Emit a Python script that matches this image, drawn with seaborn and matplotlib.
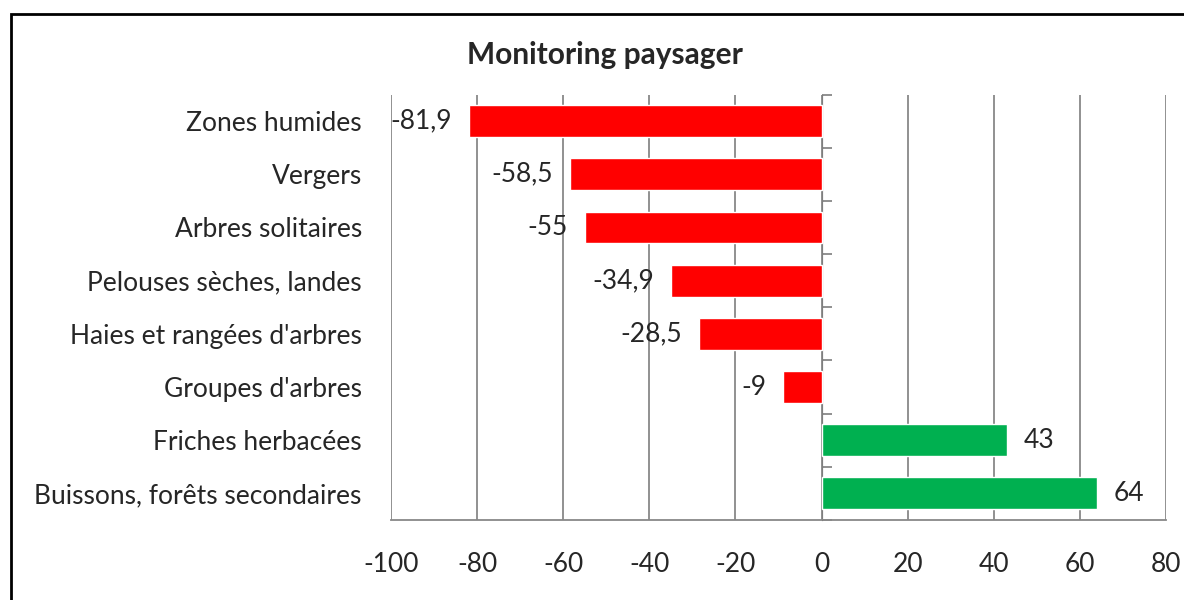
import numpy as np
import pandas as pd
import seaborn as sns
import matplotlib.pyplot as plt
import matplotlib.patches as patches
from matplotlib.ticker import MultipleLocator, FixedLocator, NullFormatter

categories = ['Zones humides', 'Vergers', 'Arbres solitaires', 'Pelouses sèches, landes',
              "Haies et rangées d'arbres", "Groupes d'arbres", 'Friches herbacées',
              'Buissons, forêts secondaires']
values = [-81.9, -58.5, -55, -34.9, -28.5, -9, 43, 64]

df = pd.DataFrame({'cat': categories, 'val': values})
df['sign'] = np.where(df['val'] < 0, 'neg', 'pos')

sns.set_style('white')
plt.rcParams['font.family'] = ['Lato', 'DejaVu Sans']
plt.rcParams['axes.unicode_minus'] = False

fig = plt.figure(figsize=(11.84, 6), dpi=100)
ax = fig.add_axes([0.3302, 0.1333, 0.6546, 0.7092])

sns.barplot(data=df, x='val', y='cat', hue='sign', palette={'neg': '#FF0000', 'pos': '#00B050'},
            width=0.6, legend=False, orient='h', ax=ax, saturation=1)

grey = '#888888'
ax.set_xlim(-100, 80)
ax.set_ylim(len(categories) - 0.5, -0.5)
ax.xaxis.set_major_locator(MultipleLocator(20))
ax.grid(axis='x', color=grey, lw=1.3)
ax.set_axisbelow(True)
ax.set_xlabel(None)
ax.set_ylabel(None)

for s in ['top', 'right', 'left']:
    ax.spines[s].set_visible(False)
ax.spines['bottom'].set_color(grey)
ax.spines['bottom'].set_linewidth(1.3)
ax.tick_params(axis='x', direction='out', length=8, width=1.3, color=grey, pad=15, labelsize=19)
ax.tick_params(axis='y', length=0, pad=21, labelsize=19)

# vertical axis line at zero with category-boundary ticks
sec = ax.secondary_yaxis(100 / 180)
sec.spines['left'].set_color(grey)
sec.spines['left'].set_linewidth(1.3)
sec.yaxis.set_major_locator(FixedLocator(np.arange(len(categories) + 1) - 0.5))
sec.yaxis.set_major_formatter(NullFormatter())
sec.tick_params(axis='y', direction='out', length=7, width=1.3, color=grey)

for cont in ax.containers:
    labels = [('%g' % v).replace('.', ',') for v in cont.datavalues]
    ax.bar_label(cont, labels=labels, padding=12, fontsize=19)

fig.text(0.511, 0.908, 'Monitoring paysager', ha='center', va='center',
         fontsize=21.5, fontweight='bold')

frame = patches.Rectangle((11 / 1184, -0.1), 1.2, 1.1 - 14 / 600, transform=fig.transFigure,
                          fill=False, edgecolor='black', lw=2, clip_on=False)
fig.patches.append(frame)

plt.savefig('out.png', dpi=100)
